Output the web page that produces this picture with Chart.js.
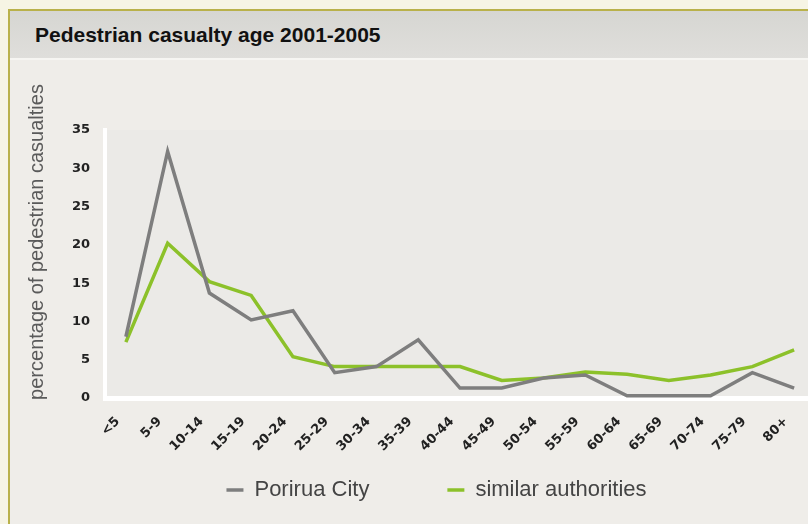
<!DOCTYPE html>
<html>
<head>
<meta charset="utf-8">
<script src="https://cdn.jsdelivr.net/npm/chart.js@4/dist/chart.umd.min.js"></script>
<style>
  html, body { margin: 0; padding: 0; width: 808px; height: 524px; overflow: hidden; background: #f6f4e4; }
  #frame { position: absolute; left: 8px; top: 9px; width: 820px; height: 530px;
           border-left: 2px solid #b9b14a; border-top: 2px solid #b9b14a; background: #efede9; }
  #head { height: 47px; background: linear-gradient(to bottom, #d6d6d2, #dfdedb);
          border-bottom: 2px solid #f6f5f2; }
  #head span { position: absolute; left: 25px; top: 12px; font: bold 21px "Liberation Sans", Arial, sans-serif; color: #111; }
  #c { position: absolute; left: 0; top: 0; }
</style>
</head>
<body>
<div id="frame"><div id="head"><span>Pedestrian casualty age 2001-2005</span></div></div>
<canvas id="c" width="830" height="524"></canvas>
<script>
// age groups
var ageGroups = ['<5', '5-9', '10-14', '15-19', '20-24', '25-29', '30-34', '35-39', '40-44',
                 '45-49', '50-54', '55-59', '60-64', '65-69', '70-74', '75-79', '80+'];
// percentage of pedestrian casualties
var porirua = [8, 32.2, 13.7, 10.2, 11.4, 3.3, 4.1, 7.6, 1.3, 1.3, 2.6, 3, 0.3, 0.3, 0.3, 3.3, 1.3];
var similar = [7.3, 20.2, 15.2, 13.4, 5.4, 4.1, 4.1, 4.1, 4.1, 2.3, 2.6, 3.4, 3.1, 2.3, 3, 4.1, 6.3];
var yTicks = [0, 5, 10, 15, 20, 25, 30, 35];

var yTitle = 'percentage of pedestrian casualties';

// fondo del área de trazado + título del eje Y
var plotBg = {
    id: 'plotBg',
    beforeDraw: function (chart) {
        var a = chart.chartArea, ctx = chart.ctx;
        ctx.save();
        ctx.fillStyle = '#ebeae7';
        ctx.fillRect(a.left, a.top, a.right - a.left, a.bottom - a.top);
        ctx.restore();
    },
    afterDraw: function (chart) {
        var ctx = chart.ctx;
        ctx.save();
        ctx.translate(37, 242);
        ctx.rotate(-Math.PI / 2);
        ctx.font = '20px "Liberation Sans", Arial, sans-serif';
        ctx.fillStyle = '#5a5a5a';
        ctx.textAlign = 'center';
        ctx.textBaseline = 'middle';
        ctx.fillText(yTitle, 0, 0);
        ctx.restore();
    }
};

var ctx = document.getElementById('c').getContext('2d');
var myChart = new Chart(ctx, {
    type: 'line',
    data: {
        labels: ageGroups,
        datasets: [{
            label: 'Porirua City',
            data: porirua,
            borderColor: '#7e7e7e',
            backgroundColor: '#7e7e7e',
            borderWidth: 3.5,
            pointRadius: 0,
            tension: 0
        }, {
            label: 'similar authorities',
            data: similar,
            borderColor: '#8cc12a',
            backgroundColor: '#8cc12a',
            borderWidth: 3.5,
            pointRadius: 0,
            tension: 0
        }]
    },
    options: {
        responsive: false,
        animation: false,
        devicePixelRatio: 1,
        layout: { padding: { left: 58, right: 15, top: 130, bottom: 13 } },
        plugins: {
            tooltip: { enabled: false },
            legend: {
                position: 'bottom',
                labels: {
                    usePointStyle: true,
                    pointStyle: 'line',
                    pointStyleWidth: 17,
                    padding: 78,
                    color: '#444',
                    font: { family: '"Liberation Sans", Arial, sans-serif', size: 22 }
                }
            }
        },
        scales: {
            x: {
                offset: true,
                grid: { display: false, drawTicks: false },
                border: { display: true, color: '#ffffff', width: 5 },
                ticks: {
                    minRotation: 45, maxRotation: 45, padding: 16, labelOffset: -8,
                    color: '#222',
                    font: { family: '"DejaVu Sans"', weight: 'bold', size: 13 }
                },
                afterFit: function (s) {
                    // la leyenda ocupa el espacio; las etiquetas no se recortan
                    s.height = 3;
                    s._computeLabelArea = function () { return undefined; };
                }
            },
            y: {
                min: 0, max: 35,
                afterBuildTicks: function (s) { s.ticks = yTicks.map(v => ({ value: v })); },
                grid: { display: false, drawTicks: false },
                border: { display: true, color: '#ffffff', width: 4 },
                ticks: {
                    padding: 15,
                    color: '#222',
                    font: { family: '"DejaVu Sans"', weight: 'bold', size: 13 }
                },
                afterFit: function (s) { s.width = 47; }
            }
        }
    },
    plugins: [plotBg]
});
</script>
</body>
</html>
